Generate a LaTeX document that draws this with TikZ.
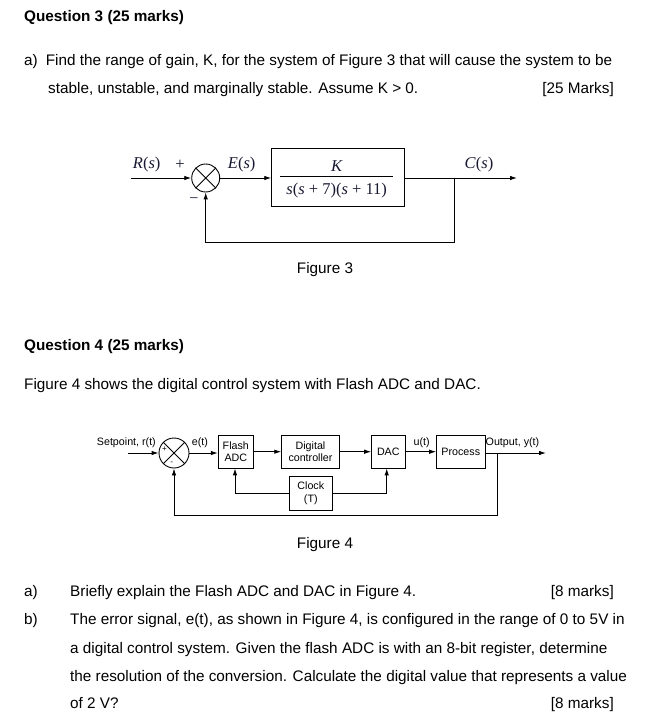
\documentclass[tikz,border=0pt]{standalone}
\usepackage{fontspec}
\setmainfont{Liberation Sans}
\newfontfamily\timesf{Liberation Serif}
\usetikzlibrary{arrows.meta}
\definecolor{labc}{RGB}{25,25,50}
\begin{document}
\begin{tikzpicture}[x=1pt,y=-1pt,
  txt/.style={anchor=base west,inner sep=0pt,font=\fontsize{15.3}{18}\selectfont},
  txtr/.style={anchor=base east,inner sep=0pt,font=\fontsize{15.3}{18}\selectfont},
  txtc/.style={anchor=base,inner sep=0pt,font=\fontsize{15.3}{18}\selectfont},
  hd/.style={anchor=base west,inner sep=0pt,font=\fontsize{15.3}{18}\selectfont\bfseries},
  blk/.style={draw,line width=0.9pt,inner sep=0pt},
  arr/.style={line width=0.9pt,-{Latex[length=7pt,width=4.5pt]}},
  tl/.style={inner sep=0pt,text=labc,font=\timesf\fontsize{16.5}{19}\selectfont},
  sl/.style={inner sep=0pt,font=\fontsize{10.7}{12}\selectfont},
  fl/.style={inner sep=0pt,font=\fontsize{10.7}{12.5}\selectfont,align=center}]
\useasboundingbox[fill=white] (0,0) rectangle (669,727);

% Text
\node[hd] (q3) at (24,22) {Question 3 (25 marks)};
\node[txt] (q3a) at (24,66) {a)\hspace{8pt}Find the range of gain, K, for the system of Figure 3 that will cause the system to be};
\node[txt] (q3b) at (48,94) {stable, unstable, and marginally stable. Assume K > 0.};
\node[txtr] (q3m) at (614,94) {[25 Marks]};
\node[txtc] (f3) at (325,273) {Figure 3};
\node[hd] (q4) at (24,350) {Question 4 (25 marks)};
\node[txt] (q4t) at (24,389) {Figure 4 shows the digital control system with Flash ADC and DAC.};
\node[txtc] (f4) at (325,548) {Figure 4};
\node[txt] (pa) at (24,596) {a)};
\node[txt] (pat) at (70,596) {Briefly explain the Flash ADC and DAC in Figure 4.};
\node[txtr] (pam) at (614,596) {[8 marks]};
\node[txt] (pb) at (24,624) {b)};
\node[txt] (pb1) at (70,624) {The error signal, e(t), as shown in Figure 4, is configured in the range of 0 to 5V in};
\node[txt] (pb2) at (70,653) {a digital control system. Given the flash ADC is with an 8-bit register, determine};
\node[txt] (pb3) at (70,681) {the resolution of the conversion. Calculate the digital value that represents a value};
\node[txt] (pb4) at (70,708) {of 2 V?};
\node[txtr] (pbm) at (614,708) {[8 marks]};

% Figure 3
\node[draw,circle,line width=0.9pt,minimum size=28pt,inner sep=0pt] (s3) at (205.7,178) {};
\draw[line width=0.9pt] (s3.north west) -- (s3.south east) (s3.north east) -- (s3.south west);
\node[blk,minimum width=132.6pt,minimum height=58.4pt] (g) at (338,177.5) {};
\draw[line width=0.7pt] (280,176.7) -- (393,176.7);
\node[tl] (gk) at (336.7,166) {\itshape K};
\node[tl] (gd) at (336.7,191) {\textit{s}(\textit{s} + 7)(\textit{s} + 11)};
\coordinate (rin) at (131,178);
\coordinate (cout) at (517,178);
\coordinate (br3) at (454.3,178);
\draw[arr] (rin) -- (s3.west);
\draw[arr] (s3.east) -- (s3.east -| g.west);
\draw[line width=0.9pt] (g.east |- cout) -- (br3);
\draw[arr] (br3) -- (cout);
\draw[arr] (br3) -- (454.3,242) -- (205.7,242) -- (s3.south);
\node[tl] (rl) at (146.7,165) {\textit{R}(\textit{s})};
\node[tl] (pl) at (180,165) {+};
\node[tl] (el) at (241.7,165) {\textit{E}(\textit{s})};
\node[tl] (cl) at (479,165) {\textit{C}(\textit{s})};
\node[tl] (ml) at (194,201) {\fontsize{16}{18}\selectfont −};

% Figure 4
\node[draw,circle,line width=0.9pt,minimum size=30pt,inner sep=0pt] (s4) at (174,453) {};
\draw[line width=0.9pt] (s4.north west) -- (s4.south east) (s4.north east) -- (s4.south west);
\node[blk,fl,minimum width=35pt,minimum height=33.5pt] (adc) at (235.8,451.7) {Flash\\ADC};
\node[blk,fl,minimum width=57.6pt,minimum height=33.5pt] (dc) at (310.5,451.7) {Digital\\controller};
\node[blk,fl,minimum width=33.3pt,minimum height=33.5pt] (dac) at (388.3,451.7) {DAC};
\node[blk,fl,minimum width=48.3pt,minimum height=33.5pt] (pr) at (460.8,451.7) {Process};
\node[blk,fl,minimum width=43pt,minimum height=33.3pt] (clk) at (310.8,493.3) {Clock\\(T)};
\coordinate (sin) at (128,453);
\coordinate (yout) at (546,453);
\coordinate (br4) at (497.3,453);
\draw[arr] (sin) -- (s4.west);
\draw[arr] (s4.east) -- (s4.east -| adc.west);
\draw[arr] (adc.east |- dc.west) -- (dc.west);
\draw[arr] (dc.east) -- (dac.west);
\draw[arr] (dac.east) -- (pr.west);
\draw[line width=0.9pt] (pr.east |- yout) -- (br4);
\draw[arr] (br4) -- (yout);
\draw[arr] (br4) -- (497.3,515) -- (174,515) -- (s4.south);
\draw[arr] (clk.west) -- (235,493.3) -- (235,468.4);
\draw[arr] (clk.east) -- (386.7,493.3) -- (386.7,468.4);
\node[sl,anchor=base east] (spl) at (156,445) {Setpoint, r(t)};
\node[sl] (p4) at (164.5,449) {\fontsize{8}{9}\selectfont+};
\node[sl] (m4) at (171.7,463) {\fontsize{8}{9}\selectfont-};
\node[sl,anchor=base] (etl) at (200,445) {e(t)};
\node[sl,anchor=base] (utl) at (421.7,445) {u(t)};
\node[sl,anchor=base west] (ytl) at (485.5,445) {Output, y(t)};
\end{tikzpicture}
\end{document}
